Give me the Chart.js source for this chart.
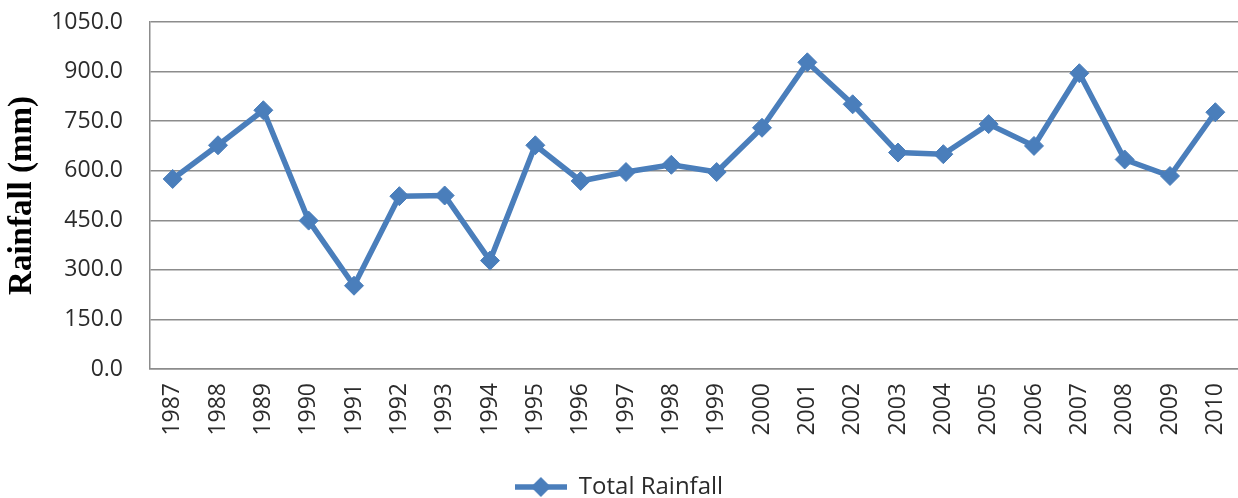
<!DOCTYPE html>
<html>
<head>
<meta charset="utf-8">
<script src="https://cdn.jsdelivr.net/npm/chart.js@4.4.1/dist/chart.umd.min.js"></script>
<style>
  html, body { margin: 0; padding: 0; background: #ffffff; }
  #wrap { width: 1238px; height: 498px; position: relative; }
</style>
</head>
<body>
<div id="wrap"><canvas id="c" width="1238" height="498"></canvas></div>
<script>
// Annual rainfall totals
const years = ['1987','1988','1989','1990','1991','1992','1993','1994','1995','1996','1997','1998',
               '1999','2000','2001','2002','2003','2004','2005','2006','2007','2008','2009','2010'];
const totalRainfall = [575, 677, 783, 449, 252, 523, 525, 328, 677, 569, 596, 618,
                       596, 730, 928, 801, 655, 650, 741, 675, 895, 634, 584, 777];
const yTicks = [0, 150, 300, 450, 600, 750, 900, 1050];

const seriesName = 'Total Rainfall';
const blue = '#4A7EBB';
const gridGray = '#8c8c8c';
const textGray = '#2b2b2b';
const tickFont = { family: '"Open Sans", sans-serif', size: 23 };

// legend swatch: a line with a diamond in the middle
function makeSwatch() {
  const cv = document.createElement('canvas');
  cv.width = 52; cv.height = 22;
  const g = cv.getContext('2d');
  g.strokeStyle = blue; g.lineWidth = 5.5;
  g.beginPath(); g.moveTo(0, 11); g.lineTo(52, 11); g.stroke();
  g.fillStyle = blue;
  g.beginPath(); g.moveTo(26, 1); g.lineTo(36, 11); g.lineTo(26, 21); g.lineTo(16, 11); g.closePath(); g.fill();
  return cv;
}
const swatch = makeSwatch();

new Chart(document.getElementById('c'), {
  type: 'line',
  data: {
    labels: years,
    datasets: [{
      label: seriesName,
      data: totalRainfall,
      borderColor: blue,
      backgroundColor: blue,
      borderWidth: 5.5,
      pointStyle: 'rectRot',
      pointRadius: 9.5,
      pointBorderWidth: 1,
      pointBackgroundColor: blue,
      pointBorderColor: blue,
      tension: 0
    }]
  },
  options: {
    responsive: false,
    animation: false,
    devicePixelRatio: 1,
    layout: { autoPadding: false, padding: { top: 22, right: 0, left: 0, bottom: -11 } },
    plugins: {
      tooltip: { enabled: false },
      legend: {
        position: 'bottom',
        labels: {
          usePointStyle: true,
          pointStyleWidth: 52,
          boxHeight: 22,
          padding: 0,
          color: textGray,
          font: { family: '"Open Sans", sans-serif', size: 24, lineHeight: 1.1 },
          generateLabels(chart) {
            const items = Chart.defaults.plugins.legend.labels.generateLabels(chart);
            items.forEach(it => { it.pointStyle = swatch; });
            return items;
          }
        }
      }
    },
    scales: {
      x: {
        offset: true,
        grid: { display: false, drawTicks: false },
        border: { display: true, color: gridGray, width: 1.5 },
        ticks: {
          color: textGray,
          font: tickFont,
          minRotation: 90,
          maxRotation: 90,
          autoSkip: false,
          padding: 14
        },
        afterFit(scale) {
          scale.height = 106;
          scale.paddingLeft = 0;
          scale.paddingRight = 0;
        }
      },
      y: {
        min: 0,
        max: 1050,
        afterBuildTicks(scale) { scale.ticks = yTicks.map(v => ({ value: v })); },
        grid: { color: gridGray, lineWidth: 1.5, drawTicks: false },
        border: { display: true, color: gridGray, width: 1.5 },
        ticks: {
          color: textGray,
          font: tickFont,
          padding: 27,
          callback: v => Number(v).toFixed(1)
        },
        title: {
          display: true,
          text: 'Rainfall (mm)',
          color: '#000000',
          font: { family: '"Liberation Serif", "Times New Roman", serif', size: 33, weight: 'bold' },
          padding: { top: 3, bottom: 0 }
        },
        afterFit(scale) {
          scale.width = 150;
          scale.paddingTop = 0;
          scale.paddingBottom = 0;
        }
      }
    }
  }
});
</script>
</body>
</html>
